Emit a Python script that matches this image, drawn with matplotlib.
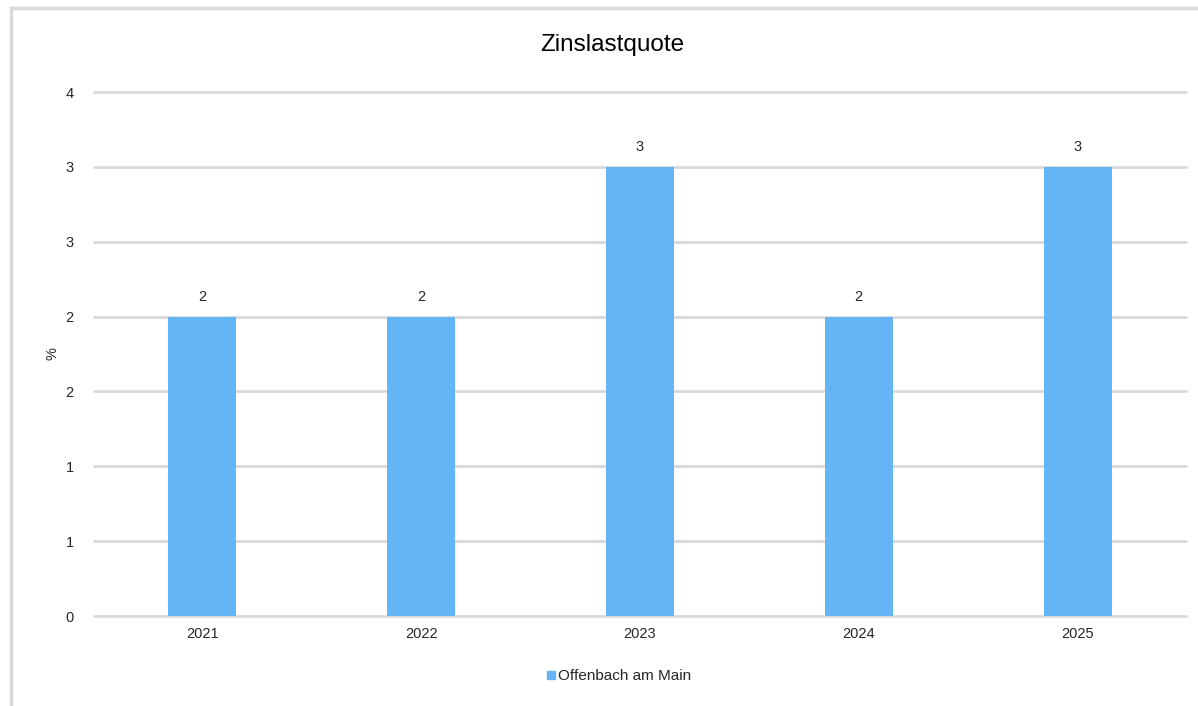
import math
import matplotlib
matplotlib.use("Agg")
import matplotlib.pyplot as plt
from matplotlib.lines import Line2D
from matplotlib.ticker import FuncFormatter

plt.rcParams['font.family'] = ['Liberation Sans', 'DejaVu Sans']

# Daten
jahre = ['2021', '2022', '2023', '2024', '2025']
zinslast = [2.0, 2.0, 3.0, 2.0, 3.0]
serie = 'Offenbach am Main'
balken_farbe = '#64b5f6'
gitter_farbe = '#d9d9d9'
text_farbe = '#262626'


# Excel-artige Rundung (0.5 -> 1)
def runden(v):
    return str(int(math.floor(v + 0.5)))


W, H = 1198, 706
fig = plt.figure(figsize=(W / 100, H / 100), dpi=100)
ax = fig.add_axes([93 / W, 1 - 616 / H, (1187 - 93) / W, (616 - 92) / H])

x = range(len(jahre))
bars = ax.bar(x, zinslast, width=0.31, color=balken_farbe, zorder=3)

ax.set_xlim(-0.5, len(jahre) - 0.5)
ax.set_ylim(0, 3.5)
ax.set_yticks([0, 0.5, 1.0, 1.5, 2.0, 2.5, 3.0, 3.5])
ax.yaxis.set_major_formatter(FuncFormatter(lambda v, p: runden(v)))
ax.set_xticks(list(x))
ax.set_xticklabels(jahre)

ax.grid(axis='y', color=gitter_farbe, linewidth=2, zorder=0)
for gl in ax.get_ygridlines():
    gl.set_clip_on(False)
    gl.set_solid_capstyle('butt')
ax.tick_params(axis='both', length=0, labelsize=10.5, colors=text_farbe)
ax.tick_params(axis='y', pad=14)
ax.tick_params(axis='x', pad=8)
for s in ax.spines.values():
    s.set_visible(False)

fig.text(53 / W, 1 - 354 / H, '%', rotation=90, ha='center', va='center',
         fontsize=10.5, color=text_farbe)

# Werte über den Balken
for b, v in zip(bars, zinslast):
    ax.annotate(runden(v), (b.get_x() + b.get_width() / 2, v), xytext=(0, 14),
                textcoords='offset points', ha='center', va='center',
                fontsize=10.5, color=text_farbe)

fig.text(612 / W, 1 - 45 / H, 'Zinslastquote', ha='center', va='center',
         fontsize=17.5, color='black')

# Legende
handles = [Line2D([0], [0], marker='s', linestyle='none', markersize=6,
                  markerfacecolor=balken_farbe, markeredgecolor=balken_farbe, label=serie)]
fig.legend(handles=handles, loc='center', bbox_to_anchor=(618 / W, 1 - 676 / H),
           frameon=False, fontsize=11, handletextpad=0.05, handlelength=0.8,
           labelcolor=text_farbe)

# Rahmen
fig.add_artist(Line2D([11 / W, 11 / W], [0, 1 - 8 / H], color='#d9d9d9', linewidth=2.5))
fig.add_artist(Line2D([11 / W, 1], [1 - 8 / H, 1 - 8 / H], color='#d9d9d9', linewidth=2.5))

fig.savefig('out.png', dpi=100)
